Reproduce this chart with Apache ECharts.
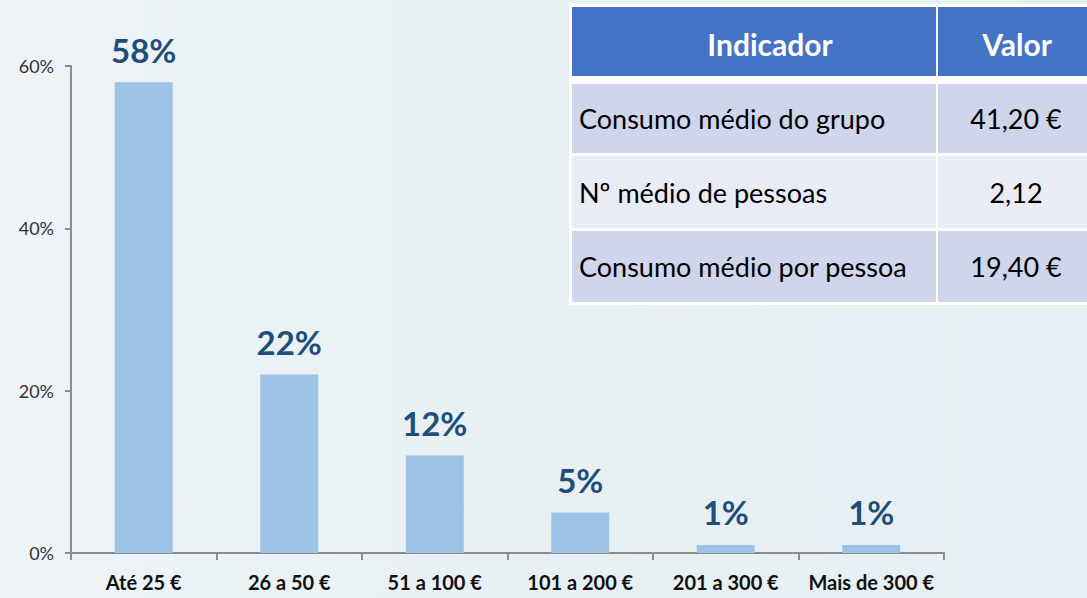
<!DOCTYPE html>
<html><head><meta charset="utf-8">
<script src="https://cdn.jsdelivr.net/npm/echarts@6/dist/echarts.min.js"></script>
<style>html,body{margin:0;padding:0;}#c{width:1087px;height:598px;background:linear-gradient(90deg,#eef4f7 0%,#e8f0f4 50%,#e6eff3 100%);}</style>
</head><body><div id="c"></div>
<script>
const categories = ['Até 25 €','26 a 50 €','51 a 100 €','101 a 200 €','201 a 300 €','Mais de 300 €'];
const values = [58,22,12,5,1,1];
const yTicks = [0,20,40,60];
const tableHeader = ['Indicador','Valor'];
const tableIndicators = ['Consumo médio do grupo','Nº médio de pessoas','Consumo médio por pessoa'];
const tableValues = ['41,20 €','2,12','19,40 €'];

const font = 'Lato, "Open Sans", sans-serif';
const chart = echarts.init(document.getElementById('c'), null, {renderer:'svg'});

const tbl = [];
const x0 = 572, xDiv = 936, x1 = 938, xEnd = 1092;
tbl.push({type:'rect', shape:{x:569,y:4,width:530,height:301}, style:{fill:'#ffffff'}});
tbl.push({type:'rect', shape:{x:x0,y:7,width:xDiv-x0,height:69}, style:{fill:'#4472C4'}});
tbl.push({type:'rect', shape:{x:x1,y:7,width:xEnd-x1,height:69}, style:{fill:'#4472C4'}});
tbl.push({type:'text', x:(x0+xDiv)/2+16, y:44, style:{text:tableHeader[0], fill:'#fff', font:'bold 30px '+font, align:'center', verticalAlign:'middle'}});
tbl.push({type:'text', x:1017, y:44, style:{text:tableHeader[1], fill:'#fff', font:'bold 30px '+font, align:'center', verticalAlign:'middle'}});
const rowsY = [[84,153],[156,228],[231,302]];
const rowFill = ['#CFD5EA','#E9EBF5','#CFD5EA'];
tableIndicators.forEach((t,i)=>{
  const [a,b] = rowsY[i];
  tbl.push({type:'rect', shape:{x:x0,y:a,width:xDiv-x0,height:b-a}, style:{fill:rowFill[i]}});
  tbl.push({type:'rect', shape:{x:x1,y:a,width:xEnd-x1,height:b-a}, style:{fill:rowFill[i]}});
  tbl.push({type:'text', x:579, y:(a+b)/2, style:{text:t, fill:'#000', font:'27px '+font, align:'left', verticalAlign:'middle'}});
  tbl.push({type:'text', x:1016, y:(a+b)/2, style:{text:tableValues[i], fill:'#000', font:'27px '+font, align:'center', verticalAlign:'middle'}});
});

chart.setOption({
  animation:false,
  grid:{left:71,right:143,top:66,bottom:45,containLabel:false},
  xAxis:{type:'category', data:categories, boundaryGap:true,
    axisLine:{lineStyle:{color:'#8c8c8c',width:2}},
    axisTick:{show:true,length:7,lineStyle:{color:'#8c8c8c',width:2}},
    axisLabel:{color:'#111',fontFamily:font,fontWeight:'bold',fontSize:20,margin:19,interval:0}},
  yAxis:{type:'value', min:0, max:60, interval:20,
    splitLine:{show:false},
    axisLine:{show:true,lineStyle:{color:'#8c8c8c',width:2}},
    axisTick:{show:true,length:6,lineStyle:{color:'#8c8c8c',width:2}},
    axisLabel:{color:'#333',fontFamily:font,fontSize:18,margin:17,formatter:v=>yTicks.includes(v)?v+'%':''}},
  series:[{type:'bar', data:values, barWidth:58,
    itemStyle:{color:'#9DC3E6'},
    label:{show:true,position:'top',distance:16,formatter:p=>p.value+'%',
      color:'#1F4E79',fontFamily:font,fontWeight:'bold',fontSize:33}}],
  graphic:tbl
});
</script></body></html>
